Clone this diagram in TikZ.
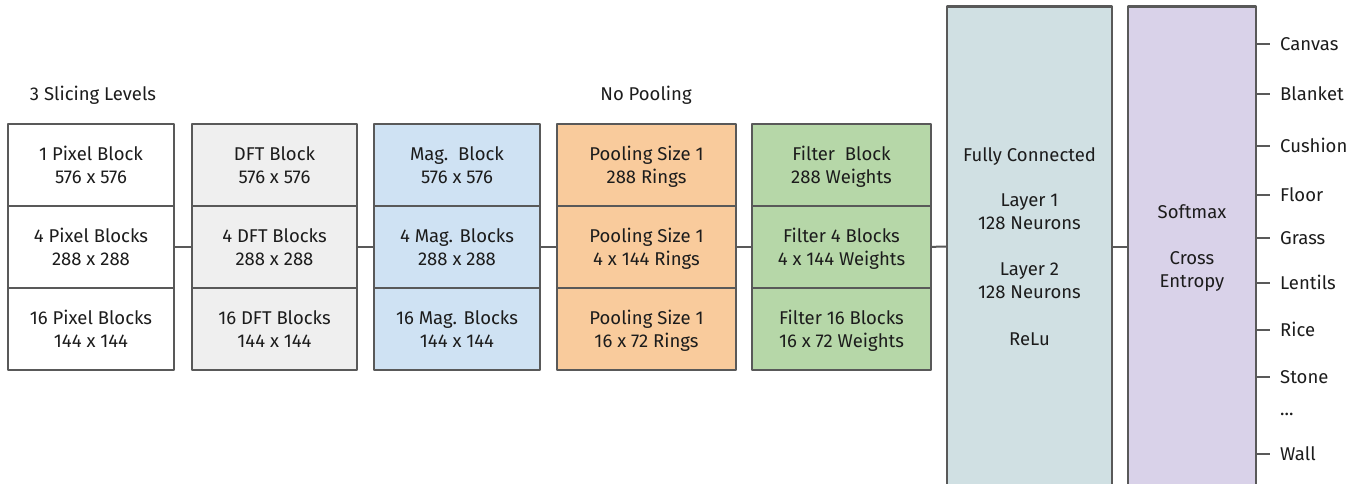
\documentclass[tikz,border=0pt]{standalone}
\usepackage{fontspec}
\setmainfont{Fira Sans}
\usepackage{xcolor}

\definecolor{bordo}{HTML}{595959}
\definecolor{testocol}{HTML}{1C1C1C}
\definecolor{dftcol}{HTML}{EFEFEF}
\definecolor{magcol}{HTML}{CFE2F3}
\definecolor{poolcol}{HTML}{F9CB9C}
\definecolor{filtcol}{HTML}{B6D7A8}
\definecolor{fccol}{HTML}{D0E0E3}
\definecolor{smcol}{HTML}{D9D2E9}

\tikzset{
  carattere/.style={font=\fontsize{18.5}{23}\selectfont,text=testocol},
  blocco/.style={carattere,draw=bordo,line width=2.2pt,line join=round,align=center,inner sep=0pt},
  cella/.style={blocco,minimum height=82pt,text height=37pt,text depth=0pt},
  linea/.style={draw=bordo,line width=2pt},
  etichetta/.style={carattere,inner sep=0pt,text height=12.7pt,text depth=0pt},
  uscita/.style={etichetta,anchor=west,inner xsep=10pt}
}

\begin{document}
\begin{tikzpicture}[x=1pt,y=-1pt]
  \useasboundingbox (0,0) rectangle (1357,484);
  % titoli sopra le colonne
  \node[etichetta] (titolo1) at (93,94) {3 Slicing Levels};
  \node[etichetta] (titolo2) at (646,94) {No Pooling};
  % colonna 1: blocchi di pixel
  \foreach \r/\txt in {1/{1 Pixel Block\\576 x 576},2/{4 Pixel Blocks\\288 x 288},3/{16 Pixel Blocks\\144 x 144}}
    \node[cella,fill=white,minimum width=166pt] (p\r) at (91,{83+82*\r}) {\txt};
  % colonna 2: DFT
  \foreach \r/\txt in {1/{DFT Block\\576 x 576},2/{4 DFT Blocks\\288 x 288},3/{16 DFT Blocks\\144 x 144}}
    \node[cella,fill=dftcol,minimum width=165pt] (d\r) at (274.5,{83+82*\r}) {\txt};
  % colonna 3: modulo
  \foreach \r/\txt in {1/{Mag.~~Block\\576 x 576},2/{4 Mag. Blocks\\288 x 288},3/{16 Mag. Blocks\\144 x 144}}
    \node[cella,fill=magcol,minimum width=166pt] (m\r) at (457,{83+82*\r}) {\txt};
  % colonna 4: anelli
  \foreach \r/\txt in {1/{Pooling Size 1\\288 Rings},2/{Pooling Size 1\\4 x 144 Rings},3/{Pooling Size 1\\16 x 72 Rings}}
    \node[cella,fill=poolcol,minimum width=179pt] (a\r) at (646.5,{83+82*\r}) {\txt};
  % colonna 5: filtri
  \foreach \r/\txt in {1/{Filter~~Block\\288 Weights},2/{Filter 4 Blocks\\4 x 144 Weights},3/{Filter 16 Blocks\\16 x 72 Weights}}
    \node[cella,fill=filtcol,minimum width=179pt] (f\r) at (841.5,{83+82*\r}) {\txt};
  % strati finali
  \node[blocco,fill=fccol,minimum width=165pt,minimum height=480pt] (fc) at (1029.5,246.5)
    {Fully Connected\\[22pt]Layer 1\\128 Neurons\\[23pt]Layer 2\\128 Neurons\\[24pt]ReLu};
  \node[blocco,fill=smcol,minimum width=128pt,minimum height=480pt,text depth=0pt] (sm) at (1192,246.5)
    {Softmax\\[23pt]Cross\\Entropy};
  % collegamenti tra le colonne
  \draw[linea] (p2) -- (d2);
  \draw[linea] (d2) -- (m2);
  \draw[linea] (m2) -- (a2);
  \draw[linea] (a2) -- (f2);
  \draw[linea] (f2) -- (fc);
  \draw[linea] (fc) -- (sm);
  % classi in uscita
  \foreach \y/\nome [count=\i] in {44/Canvas,94/Blanket,146/Cushion,195/Floor,238/Grass,283/Lentils,330/Rice,377/Stone,454/Wall}{
    \node[uscita] (o\i) at (1270,\y) {\nome};
    \draw[linea] (sm.east |- o\i.west) -- (o\i.west);
  }
  \node[uscita] (puntini) at (1270,409) {...};
\end{tikzpicture}
\end{document}
